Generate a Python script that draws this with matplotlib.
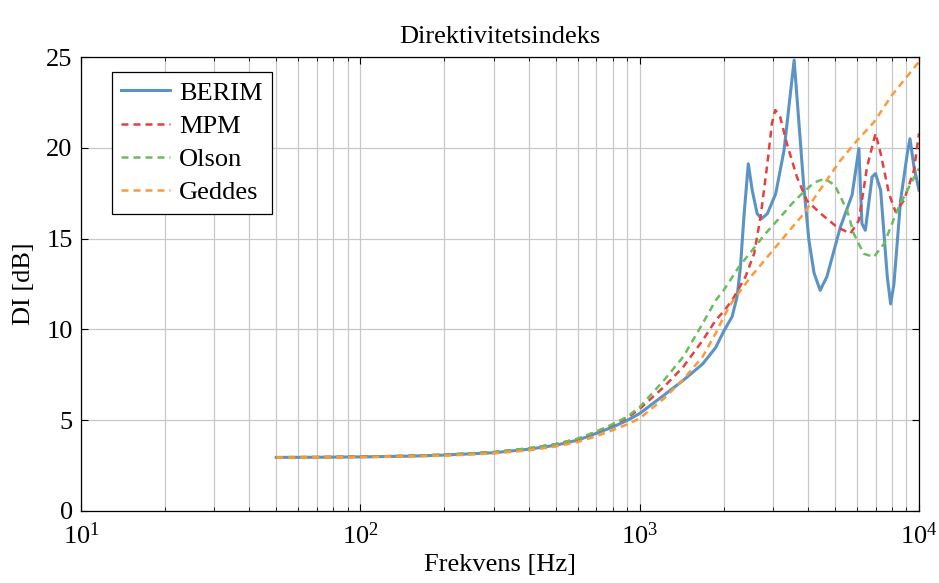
#!/usr/bin/python

import matplotlib
matplotlib.use('Agg')
import matplotlib.pyplot as plt
from matplotlib.ticker import LogLocator, NullFormatter

# Values (frequency in Hz, DI in dB)
low_freq = [50, 70, 100, 150, 200, 300, 400, 500, 600, 700, 800, 900]

berim_freq = low_freq + [
    1000, 1222, 1433, 1681, 1871, 2000, 2142, 2232, 2295, 2361, 2448, 2529,
    2634, 2731, 2864, 3069, 3286, 3573, 3862, 4036, 4211, 4428, 4680, 5230,
    5760, 6092, 6246, 6425, 6793, 6987, 7290, 7699, 7915, 8133, 8591, 9080,
    9283, 9594, 10000]
berim_di = [2.95, 2.96, 2.98, 3.02, 3.08, 3.21, 3.40, 3.62, 3.90, 4.28,
            4.62, 4.98,
            5.37, 6.38, 7.20, 8.10, 9.00, 9.90, 10.70, 11.80, 13.44, 16.19,
            19.12, 17.66, 16.37, 16.10, 16.37, 17.47, 19.85, 24.83, 18.00,
            14.90, 13.10, 12.15, 12.90, 15.64, 17.40, 19.96, 15.83, 15.46,
            18.40, 18.58, 17.67, 12.90, 11.40, 12.50, 17.10, 19.69, 20.50,
            18.95, 17.67]

mpm_freq = low_freq + [
    1000, 1222, 1433, 1681, 1871, 2000, 2142, 2392, 2570, 2709, 2864, 2974,
    3058, 3184, 3364, 3654, 3966, 4428, 5083, 5683, 6092, 6518, 6987, 7290,
    7806, 8245, 8832, 9594, 10000]
mpm_di = [2.96, 2.97, 2.99, 3.04, 3.10, 3.24, 3.45, 3.68, 3.97, 4.36,
          4.74, 5.12,
          5.62, 6.84, 7.94, 9.40, 10.50, 11.00, 11.60, 12.90, 14.18, 16.20,
          19.10, 21.34, 22.08, 21.70, 20.24, 18.40, 17.10, 16.40, 15.64,
          15.28, 16.00, 18.95, 20.79, 19.69, 17.48, 16.47, 17.10, 18.77,
          20.80]

olson_freq = low_freq + [
    1000, 1222, 1433, 1681, 1871, 2000, 2265, 2528, 2818, 3152, 3507, 3858,
    4228, 4600, 5000, 5527, 5839, 6334, 6889, 7501, 8361, 9080, 10000]
olson_di = [2.96, 2.97, 2.99, 3.04, 3.10, 3.24, 3.45, 3.68, 3.98, 4.38,
            4.78, 5.18,
            5.72, 7.20, 8.50, 10.33, 11.60, 12.16, 13.44, 14.36, 15.27,
            16.10, 16.92, 17.56, 18.10, 18.30, 17.93, 16.56, 15.28, 14.17,
            13.99, 14.72, 16.56, 17.67, 18.86]

geddes_freq = low_freq + [
    1000, 1222, 1433, 1681, 1871, 2000, 2142, 2288, 2500, 3015, 3463, 3824,
    4755, 5230, 6000, 6889, 8000, 10000]
geddes_di = [2.94, 2.95, 2.97, 3.00, 3.05, 3.17, 3.34, 3.55, 3.80, 4.12,
             4.45, 4.76,
             5.10, 6.20, 7.25, 8.50, 9.78, 10.70, 11.50, 12.10, 12.90, 14.40,
             15.50, 16.28, 18.39, 19.30, 20.40, 21.40, 22.90, 24.74]

series = [
    ('BERIM', berim_freq, berim_di, '#5b93c4', '-'),
    ('MPM', mpm_freq, mpm_di, '#e5403f', (0, (2.8, 2.0))),
    ('Olson', olson_freq, olson_di, '#6bbd5b', (0, (2.8, 2.0))),
    ('Geddes', geddes_freq, geddes_di, '#fd9a38', (0, (2.8, 2.0))),
]

plt.rcParams['font.family'] = ['Liberation Serif', 'DejaVu Serif']
plt.rcParams['mathtext.fontset'] = 'stix'

fig = plt.figure(figsize=(9.39, 5.83), dpi=100)
ax = fig.add_axes([0.0863, 0.1235, 0.8924, 0.7787])

for name, freq, di, color, style in series:
    lw = 2.2 if style == '-' else 1.8
    ax.plot(freq, di, color=color, linestyle=style, linewidth=lw, label=name)

ax.set_xscale('log')
ax.set_xlim(10, 10000)
ax.set_ylim(0, 25)
ax.set_yticks([0, 5, 10, 15, 20, 25])
ax.xaxis.set_minor_locator(LogLocator(base=10, subs=range(2, 10)))
ax.xaxis.set_minor_formatter(NullFormatter())

ax.grid(True, which='major', color='#c8c8c8', linewidth=0.9)
ax.grid(True, which='minor', axis='x', color='#c8c8c8', linewidth=0.9)
ax.set_axisbelow(True)

ax.tick_params(which='both', direction='in', top=True, right=True,
               labelsize=19)
ax.tick_params(axis='x', pad=8)
ax.tick_params(axis='y', pad=6)
ax.tick_params(which='major', length=5)
ax.tick_params(which='minor', length=3)
for sp in ax.spines.values():
    sp.set_linewidth(0.9)

ax.set_xlabel('Frekvens [Hz]', fontsize=19, labelpad=4)
ax.set_ylabel('DI [dB]', fontsize=19, labelpad=8)
ax.set_title('Direktivitetsindeks', fontsize=19, pad=10)

leg = ax.legend(loc='upper left', fontsize=19, frameon=True, fancybox=False,
                edgecolor='black', framealpha=1, handlelength=1.85,
                handletextpad=0.35, labelspacing=0.37, borderpad=0.35,
                borderaxespad=0, bbox_to_anchor=(0.037, 0.967))
leg.get_frame().set_linewidth(0.9)

fig.savefig('out.png', dpi=100)
